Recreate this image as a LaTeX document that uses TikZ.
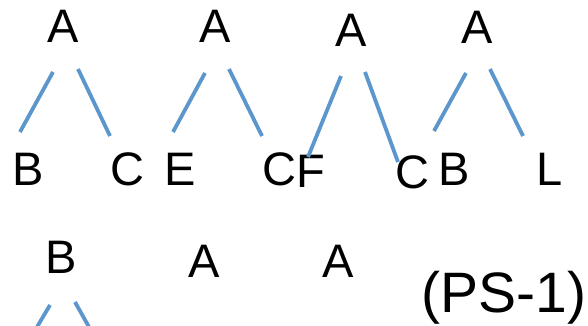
\documentclass[tikz,border=0pt]{standalone}
\usepackage{fontspec}
\setmainfont{Liberation Sans}
\usetikzlibrary{positioning}
\definecolor{branchblue}{RGB}{91,150,205}

\begin{document}
\begin{tikzpicture}[x=1pt,y=-1pt,
    letter/.style={anchor=base,inner sep=0pt,font=\fontsize{47}{47}\selectfont},
    branch/.style={branchblue,line width=3.8pt}]
    \useasboundingbox (0,0) rectangle (588,325);

    % the four small trees
    \node[letter] (a1) at (63,42) {A};
    \node[letter] (a2) at (215,42) {A};
    \node[letter] (a3) at (351,46) {A};
    \node[letter] (a4) at (477,43) {A};

    \node[letter] (b1) at (28,185) {B};
    \node[letter] (c1) at (127,185) {C};
    \node[letter] (e1) at (180,185) {E};
    \node[letter] (c2) at (279,185) {C};
    \node[letter] (f1) at (311,187) {F};
    \node[letter] (c3) at (412,188) {C};
    \node[letter] (b2) at (454,185) {B};
    \node[letter] (l1) at (550,185) {L};

    % second row
    \node[letter] (b3) at (61,273) {B};
    \node[letter] (a5) at (204,277) {A};
    \node[letter] (a6) at (338,277) {A};
    \node[anchor=base,inner sep=0pt,font=\fontsize{57}{57}\selectfont] (ps) at (504,312) {(PS-1)};

    % Define the end points of the branches
    \coordinate (p1) at (53,72);   \coordinate (q1) at (20,132);
    \coordinate (p2) at (78,69);   \coordinate (q2) at (110,136);
    \coordinate (p3) at (205,73);  \coordinate (q3) at (173,132);
    \coordinate (p4) at (229,69);  \coordinate (q4) at (262,136);
    \coordinate (p5) at (341,76);  \coordinate (q5) at (308,157);
    \coordinate (p6) at (365,72);  \coordinate (q6) at (398,162);
    \coordinate (p7) at (466,73);  \coordinate (q7) at (434,131);
    \coordinate (p8) at (490,69);  \coordinate (q8) at (523,136);
    \coordinate (p9) at (50,305);  \coordinate (q9) at (37,327);
    \coordinate (p10) at (75,302); \coordinate (q10) at (89,327);

    \foreach \i in {1,...,10}
        \draw[branch] (p\i) -- (q\i);
\end{tikzpicture}
\end{document}
